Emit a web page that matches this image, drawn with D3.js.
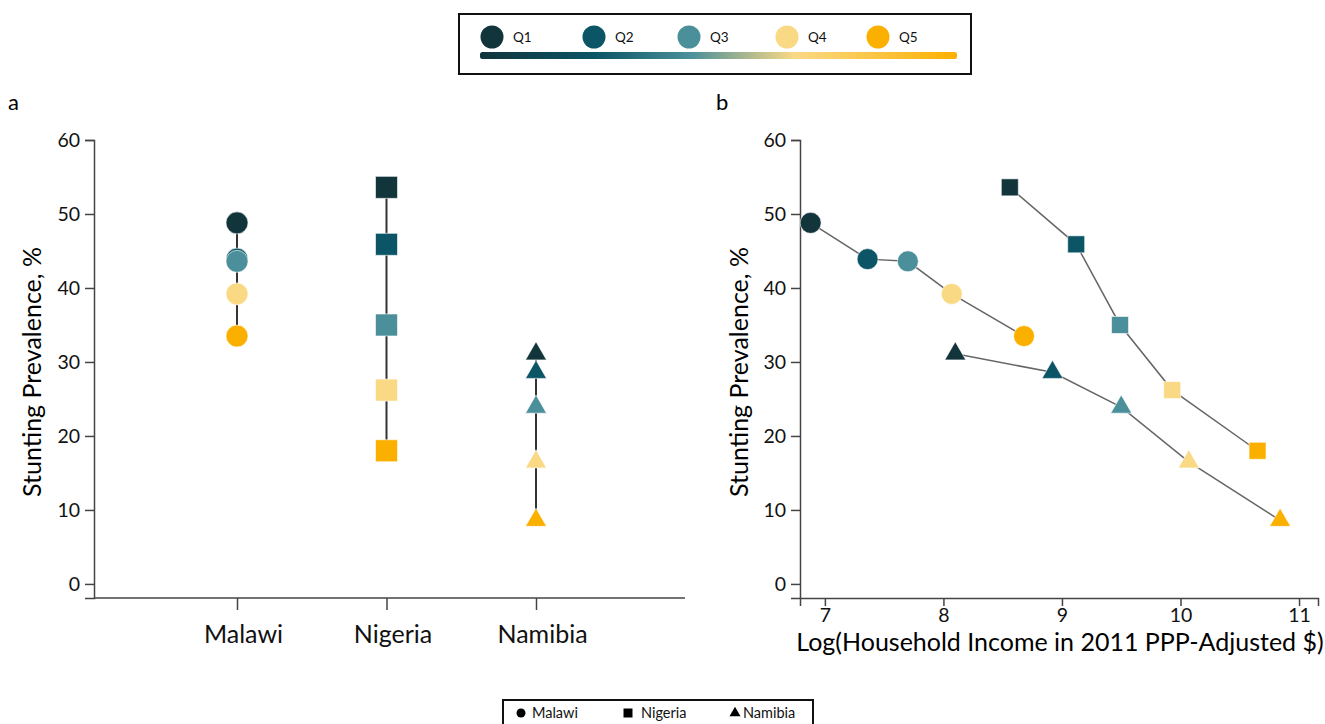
<!DOCTYPE html>
<html><head><meta charset="utf-8">
<script src="https://cdn.jsdelivr.net/npm/d3@7"></script>
<style>body{margin:0;background:#fff;font-family:Lato,"Open Sans",sans-serif;}</style>
</head><body>
<svg id="c" width="1325" height="724"></svg>
<script>
const countries = ["Malawi","Nigeria","Namibia"];
const quintiles = ["Q1","Q2","Q3","Q4","Q5"];
const quintileColors = ["#12343b","#0b5566","#4a8f9a","#fad985","#fbb000"];
const stuntMalawi  = [48.8, 43.9, 43.6, 39.2, 33.5];
const stuntNigeria = [53.6, 45.9, 35.0, 26.2, 18.0];
const stuntNamibia = [31.1, 28.6, 23.9, 16.5, 8.6];
const incomeMalawi  = [6.88, 7.36, 7.70, 8.07, 8.68];
const incomeNigeria = [8.56, 9.12, 9.49, 9.93, 10.65];
const incomeNamibia = [8.10, 8.92, 9.50, 10.07, 10.84];
const yTicks = [0,10,20,30,40,50,60];
const xTicksB = [7,8,9,10,11];

const series = [
  {name:"Malawi", shape:"circle", stunt:stuntMalawi, income:incomeMalawi},
  {name:"Nigeria", shape:"square", stunt:stuntNigeria, income:incomeNigeria},
  {name:"Namibia", shape:"triangle", stunt:stuntNamibia, income:incomeNamibia}
];

const svg = d3.select("#c");
const font = "Lato, 'Open Sans', sans-serif";
const bigSize = 25;
const tickSize = 19.5;
const axisColor = "#444";

function symbolPath(shape, big){
  if(shape==="circle") return d3.symbol().type(d3.symbolCircle).size(Math.PI*(big?11:10.5)**2)();
  if(shape==="square") return d3.symbol().type(d3.symbolSquare).size((big?22:17)**2)();
  const s = 21;
  return d3.symbol().type(d3.symbolTriangle).size(Math.sqrt(3)/4*s*s)();
}

// ---------- Top legend ----------
const leg = svg.append("g");
leg.append("rect").attr("x",459).attr("y",14).attr("width",512).attr("height",60)
  .attr("fill","#fff").attr("stroke","#111").attr("stroke-width",2);
const grad = svg.append("defs").append("linearGradient").attr("id","qg")
  .attr("x1","0%").attr("x2","100%");
const gStops = [0, 0.24, 0.44, 0.66, 1];
quintileColors.forEach((c,i)=>grad.append("stop").attr("offset",gStops[i]).attr("stop-color",c));
leg.append("rect").attr("x",480).attr("y",52).attr("width",477).attr("height",7).attr("rx",2.5)
  .attr("fill","url(#qg)");
const legX = [492, 594, 689, 787, 878];
quintiles.forEach((q,i)=>{
  leg.append("circle").attr("cx",legX[i]).attr("cy",37).attr("r",11.5).attr("fill",quintileColors[i]);
  leg.append("text").attr("x",legX[i]+21).attr("y",42).attr("font-size",13.5)
    .attr("font-family",font).attr("fill","#111").text(q);
});

// ---------- Panel a ----------
const ya = d3.scaleLinear().domain([-1.9,60]).range([598,140]);
const xa = d3.scalePoint().domain(countries).range([237,536]);
const ga = svg.append("g");
ga.append("text").attr("x",8).attr("y",110).attr("font-size",22).attr("font-family",font).text("a");
const yAxA = ga.append("g").attr("transform","translate(94,0)")
  .call(d3.axisLeft(ya).tickValues(yTicks).tickSizeOuter(0).tickSize(9).tickPadding(5));
const xAxA = ga.append("g").attr("transform","translate(0,598)")
  .call(d3.axisBottom(xa).tickSizeOuter(0).tickSize(12).tickPadding(15));
xAxA.select(".domain").remove();
ga.append("line").attr("x1",94).attr("x2",685).attr("y1",598).attr("y2",598)
  .attr("stroke",axisColor).attr("stroke-width",1.5);
[yAxA,xAxA].forEach(a=>{
  a.selectAll("path,line").attr("stroke",axisColor).attr("stroke-width",1.5);
  a.selectAll("text").attr("fill","#111").attr("font-family",font);
});
yAxA.selectAll("text").attr("font-size",tickSize);
xAxA.selectAll("text").attr("font-size",bigSize).attr("dx",6);
ga.append("text").attr("transform","translate(41,372) rotate(-90)").attr("text-anchor","middle")
  .attr("font-size",bigSize).attr("font-family",font).text("Stunting Prevalence, %");

series.forEach(s=>{
  const x = xa(s.name);
  ga.append("line").attr("x1",x).attr("x2",x)
    .attr("y1",ya(d3.max(s.stunt))).attr("y2",ya(d3.min(s.stunt)))
    .attr("stroke","#333").attr("stroke-width",2);
  s.stunt.forEach((v,i)=>{
    ga.append("path").attr("d",symbolPath(s.shape,true))
      .attr("transform",`translate(${x},${ya(v)})`)
      .attr("fill",quintileColors[i]).attr("stroke","#fff").attr("stroke-width",0.6);
  });
});

// ---------- Panel b ----------
const yb = d3.scaleLinear().domain([-1.9,60]).range([598,140]);
const xb = d3.scaleLinear().domain([6.79,11.16]).range([800,1318]);
const gb = svg.append("g");
gb.append("text").attr("x",716).attr("y",110).attr("font-size",22).attr("font-family",font).text("b");
const yAxB = gb.append("g").attr("transform","translate(800,0)")
  .call(d3.axisLeft(yb).tickValues(yTicks).tickSizeOuter(0).tickSize(9).tickPadding(5));
const xAxB = gb.append("g").attr("transform","translate(0,598)")
  .call(d3.axisBottom(xb).tickValues(xTicksB).tickFormat(d3.format("d")).tickSizeOuter(0).tickSize(8).tickPadding(2));
[yAxB,xAxB].forEach(a=>{
  a.selectAll("path,line").attr("stroke",axisColor).attr("stroke-width",1.5);
  a.selectAll("text").attr("font-family",font).attr("fill","#111").attr("font-size",tickSize);
});
gb.append("text").attr("transform","translate(748,372) rotate(-90)").attr("text-anchor","middle")
  .attr("font-size",bigSize).attr("font-family",font).text("Stunting Prevalence, %");
gb.append("text").attr("x",1060).attr("y",651).attr("text-anchor","middle")
  .attr("font-size",bigSize).attr("font-family",font).text("Log(Household Income in 2011 PPP-Adjusted $)");

const lineGen = d3.line().x(d=>xb(d[0])).y(d=>yb(d[1]));
series.forEach(s=>{
  const pts = s.income.map((x,i)=>[x,s.stunt[i]]);
  gb.append("path").attr("d",lineGen(pts)).attr("fill","none")
    .attr("stroke","#666").attr("stroke-width",1.5);
});
series.forEach(s=>{
  s.income.forEach((x,i)=>{
    gb.append("path").attr("d",symbolPath(s.shape,false))
      .attr("transform",`translate(${xb(x)},${yb(s.stunt[i])})`)
      .attr("fill",quintileColors[i]).attr("stroke","#fff").attr("stroke-width",0.6);
  });
});

// ---------- Bottom legend ----------
const bl = svg.append("g");
bl.append("rect").attr("x",503).attr("y",700).attr("width",310).attr("height",40)
  .attr("fill","#fff").attr("stroke","#111").attr("stroke-width",2);
const blItems = [{n:"Malawi",s:"circle",x:521,tx:532},{n:"Nigeria",s:"square",x:628,tx:641},{n:"Namibia",s:"triangle",x:735,tx:743}];
blItems.forEach(it=>{
  let p;
  if(it.s==="circle") p=d3.symbol().type(d3.symbolCircle).size(Math.PI*4.5*4.5)();
  else if(it.s==="square") p=d3.symbol().type(d3.symbolSquare).size(9*9)();
  else p=d3.symbol().type(d3.symbolTriangle).size(Math.sqrt(3)/4*11*11)();
  bl.append("path").attr("d",p).attr("transform",`translate(${it.x},713)`).attr("fill","#000");
  bl.append("text").attr("x",it.tx).attr("y",717.5).attr("font-size",14.5).attr("font-family",font)
    .attr("fill","#111").text(it.n);
});
</script>
</body></html>
